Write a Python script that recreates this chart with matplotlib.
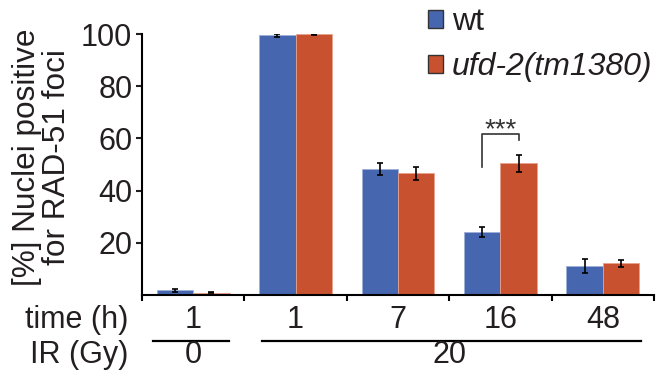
import matplotlib
matplotlib.use("Agg")
import matplotlib.pyplot as plt
import numpy as np

plt.rcParams['font.family'] = ['Liberation Sans', 'DejaVu Sans']

# data
time_labels = ['1', '1', '7', '16', '48']
wt_values = [1.8, 99.5, 48.2, 24.1, 11.1]
wt_err = [0.6, 0.5, 2.3, 2.0, 2.6]
ufd_values = [0.9, 99.9, 46.6, 50.4, 12.1]
ufd_err = [0.3, 0.2, 2.4, 3.2, 1.4]
ir_labels = ['0', '20']
ir_groups = [(0, 0), (1, 4)]  # first/last category index of each dose

blue = '#4666AF'
orange = '#C85230'
txt = '#231f20'

fig = plt.figure(figsize=(6.59, 3.81), dpi=100)
ax = fig.add_axes([142 / 659, 1 - 295 / 381, 512 / 659, 261 / 381])

x = np.arange(len(time_labels)) + 0.5
w = 0.355
ax.bar(x - w / 2, wt_values, w, color=blue, edgecolor='#9fb0d8', linewidth=0.6,
       label='wt', zorder=2)
ax.bar(x + w / 2, ufd_values, w, color=orange, edgecolor='#e8a08c', linewidth=0.6,
       label='ufd-2(tm1380)', zorder=2)
ax.errorbar(x - w / 2, wt_values, yerr=wt_err, fmt='none', ecolor='black',
            elinewidth=1.2, capsize=2.3, capthick=1.2, zorder=3)
ax.errorbar(x + w / 2, ufd_values, yerr=ufd_err, fmt='none', ecolor='black',
            elinewidth=1.2, capsize=2.3, capthick=1.2, zorder=3)

# significance bracket at 16 h
bx0, bx1 = x[3] - w / 2, x[3] + w / 2
ax.plot([bx0, bx0, bx1, bx1], [49, 61.7, 61.7, 59.4], color='#333333', lw=1.2,
        clip_on=False, zorder=3)
ax.text((bx0 + bx1) / 2, 60.5, '***', ha='center', va='baseline', fontsize=20,
        color='#333333')

ax.set_xlim(0, 5)
ax.set_ylim(0, 100)
ax.set_yticks([20, 40, 60, 80, 100])
ax.tick_params(axis='y', labelsize=22, length=4, width=1.5, pad=3, colors=txt)
ax.set_xticks(np.arange(6))
ax.set_xticklabels([])
ax.tick_params(axis='x', length=4, width=1.5)
for s in ['top', 'right']:
    ax.spines[s].set_visible(False)
for s in ['left', 'bottom']:
    ax.spines[s].set_linewidth(1.5)

# time row
trans = ax.get_xaxis_transform()
for xi, lab in zip(x, time_labels):
    ax.text(xi, -0.096, lab, transform=trans, ha='center', va='center',
            fontsize=22, color=txt)
ax.text(-0.027, -0.096, 'time (h)', transform=ax.transAxes, ha='right',
        va='center', fontsize=22, color=txt)

# IR row
for lab, (i0, i1) in zip(ir_labels, ir_groups):
    xa = i0 + 0.107 if i0 == 0 else i0 + 0.17
    xb = i1 + 0.85 if i0 == 0 else i1 + 0.87
    ax.plot([xa, xb], [-0.176, -0.176], transform=trans, color='black', lw=1.6,
            clip_on=False)
    ax.text((i0 + i1 + 1) / 2, -0.23, lab, transform=trans, ha='center',
            va='center', fontsize=22, color=txt)
ax.text(-0.027, -0.23, 'IR (Gy)', transform=ax.transAxes, ha='right',
        va='center', fontsize=22, color=txt)

fig.text(42 / 659, 1 - 157 / 381, '[%] Nuclei positive\nfor RAD-51 foci',
         rotation=90, ha='center', va='center', multialignment='center',
         fontsize=22.7, linespacing=1.0, color=txt)

leg = ax.legend(loc='upper left', bbox_to_anchor=(428 / 659, 1 - 7 / 381),
                bbox_transform=fig.transFigure, frameon=False, fontsize=23,
                handlelength=0.48, handleheight=0.48, handletextpad=0.26,
                labelspacing=0.48, borderpad=0, borderaxespad=0)
for h in leg.legend_handles:
    h.set_edgecolor('#333333')
    h.set_linewidth(1.0)
for t in leg.get_texts():
    t.set_color(txt)
leg.get_texts()[1].set_style('italic')

fig.savefig('out.png', dpi=100)
